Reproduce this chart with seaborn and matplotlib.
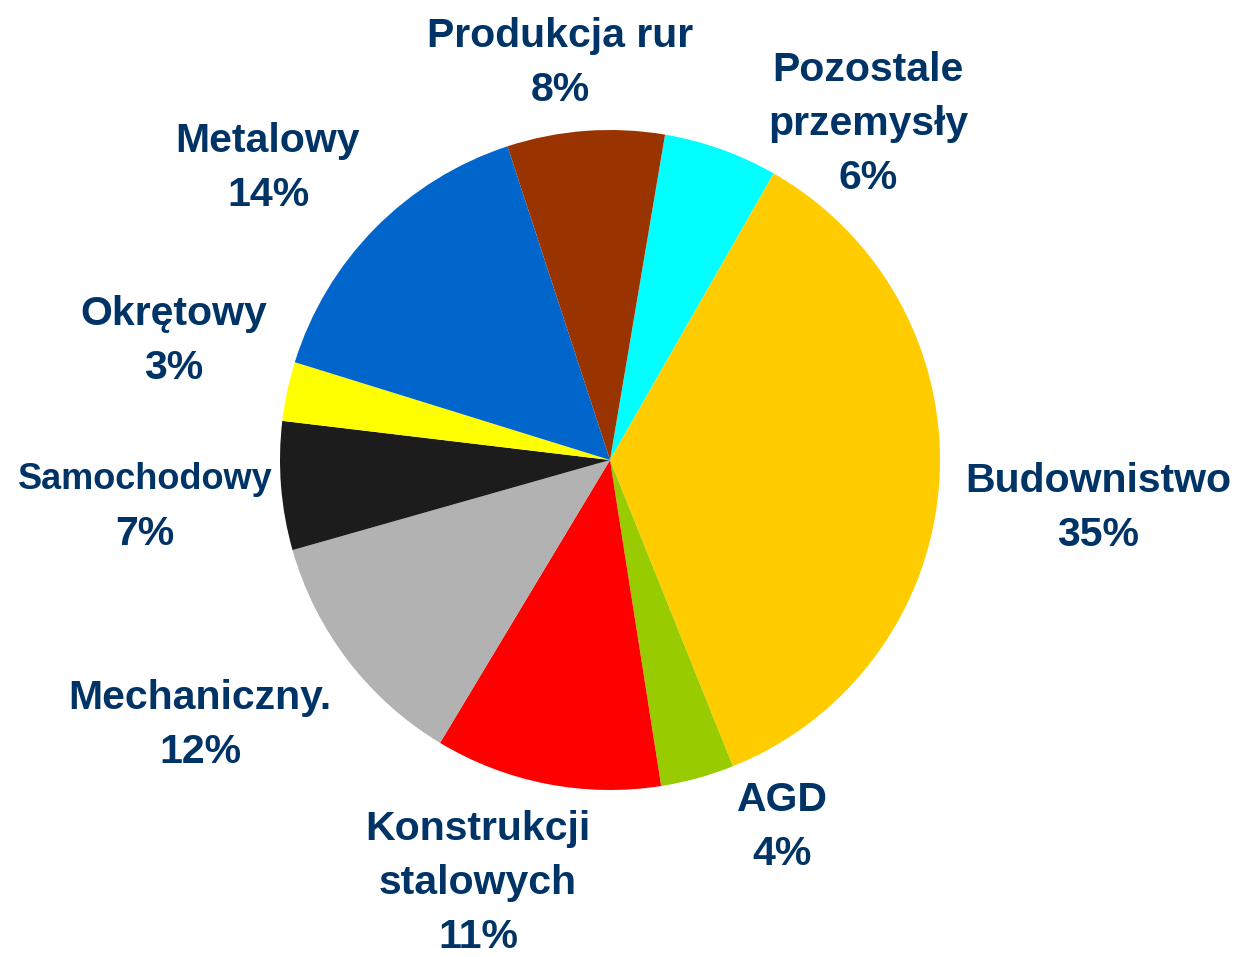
import matplotlib
matplotlib.use("Agg")
import matplotlib.pyplot as plt
import seaborn as sns

# Data (clockwise from top)
categories = ["Pozostale\nprzemysły", "Budownistwo", "AGD", "Konstrukcji\nstalowych",
              "Mechaniczny.", "Samochodowy", "Okrętowy", "Metalowy", "Produkcja rur"]
shares = [5.6, 35.7, 3.6, 11.1, 12.0, 6.3, 2.9, 15.2, 7.7]
pct_labels = ["6%", "35%", "4%", "11%", "12%", "7%", "3%", "14%", "8%"]
colors = ["#00FFFF", "#FFCC00", "#99CC00", "#FF0000", "#B2B2B2",
          "#1C1C1C", "#FFFF00", "#0066CC", "#993300"]

sns.set_theme(style="white")
plt.rcParams["font.family"] = ["Liberation Sans", "DejaVu Sans"]

W, H = 1240, 957
fig = plt.figure(figsize=(W / 100, H / 100), dpi=100)
cx, cy, r = 610, 460, 330
ax = fig.add_axes([(cx - r) / W, (H - cy - r) / H, 2 * r / W, 2 * r / H])

palette = sns.color_palette(colors)
ax.pie(shares, colors=palette, startangle=90 - 9.6, counterclock=False,
       radius=1.0, wedgeprops=dict(linewidth=0))
ax.set_xlim(-1, 1)
ax.set_ylim(-1, 1)
ax.set_aspect("equal")
ax.axis("off")

# label anchor positions (pixel centers of text blocks)
label_pos = [(868, 124), (1098, 508), (782, 827), (478, 883),
             (200, 725), (145, 507), (174, 341), (268, 168), (560, 63)]
name_sizes = [29.5, 29.5, 29.5, 29.5, 29.5, 26, 29.5, 29.5, 29.5]
navy = "#003366"
for name, pct, (px, py), fs in zip(categories, pct_labels, label_pos, name_sizes):
    lines = name.split("\n") + [pct]
    n = len(lines)
    step = 54
    for i, line in enumerate(lines):
        y = py + (i - (n - 1) / 2) * step
        size = fs if i < n - 1 else 29.5
        fig.text(px / W, 1 - y / H, line, ha="center", va="center",
                 fontsize=size, fontweight="bold", color=navy)

fig.savefig("out.png", dpi=100, facecolor="white")
